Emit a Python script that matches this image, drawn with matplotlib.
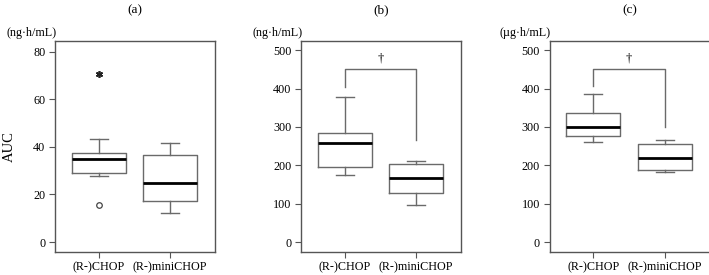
import matplotlib.pyplot as plt

plt.rcParams['font.family'] = ['Liberation Serif', 'DejaVu Serif']

groups = ["(R-)CHOP", "(R-)miniCHOP"]
panels = ["(a)", "(b)", "(c)"]
units = ["(ng\u00b7h/mL)", "(ng\u00b7h/mL)", "(\u00b5g\u00b7h/mL)"]

# box statistics per panel: [CHOP, miniCHOP]
whislo = [[27.8, 12.1], [175, 96], [260, 182]]
q1 = [[29.2, 17.4], [195, 128], [276, 189]]
med = [[35.1, 25.0], [257, 168], [300, 219]]
q3 = [[37.3, 36.8], [284, 204], [337, 255]]
whishi = [[43.5, 41.8], [378, 211], [385, 265]]

# outliers in panel (a), CHOP group
out_circle = [15.7]
out_star = [70.9]

# significance bracket for (b) and (c): top, left leg end, right leg end
brackets = [None, (452, 403, 266), (452, 407, 301)]

yticks = [[0, 20, 40, 60, 80], [0, 100, 200, 300, 400, 500], [0, 100, 200, 300, 400, 500]]
ylims = [(-4.2, 84.6), (-26, 524), (-26, 524)]

W, H = 709, 275
fig = plt.figure(figsize=(W / 100, H / 100), dpi=100)
lefts = [55, 301, 549.5]
edge = '#6a6a6a'

for i in range(3):
    ax = fig.add_axes([lefts[i] / W, 1 - 252 / H, 160 / W, 211 / H])
    stats = []
    for j in range(2):
        stats.append(dict(whislo=whislo[i][j], q1=q1[i][j], med=med[i][j],
                          q3=q3[i][j], whishi=whishi[i][j], fliers=[]))
    ax.bxp(stats, positions=[1, 2], widths=0.76, showfliers=False,
           boxprops=dict(color=edge, linewidth=1.0),
           whiskerprops=dict(color=edge, linewidth=1.0),
           capprops=dict(color=edge, linewidth=1.0),
           medianprops=dict(color='black', linewidth=2.0),
           capwidths=0.25)
    if i == 0:
        ax.plot([1] * len(out_circle), out_circle, 'o', mfc='white', mec='#444444',
                ms=4, mew=0.9)
        ax.plot([1] * len(out_star), out_star, marker=(6, 2, 0), color='#222222',
                ms=5, mew=1.2, ls='none')
    if brackets[i] is not None:
        top, l_end, r_end = brackets[i]
        ax.plot([1, 1, 2, 2], [l_end, top, top, r_end], color=edge, lw=1.0)
        ax.text(1.5, top + 10, "\u2020", ha='center', va='bottom', fontsize=9)

    ax.set_xlim(0.389, 2.626)
    ax.set_ylim(*ylims[i])
    ax.set_yticks(yticks[i])
    ax.set_xticks([1, 2])
    ax.set_xticklabels(groups, fontsize=8.7)
    ax.tick_params(axis='y', labelsize=8.7, length=4, color='#555555', pad=3)
    ax.tick_params(axis='x', length=4, color='#555555', pad=3)
    for s in ax.spines.values():
        s.set_color('#555555')
        s.set_linewidth(1.0)
    ax.text(0.01, 1 + 8 / 211, units[i], transform=ax.transAxes, ha='right',
            va='center', fontsize=8.7)
    ax.text(0.5, 1 + 31 / 211, panels[i], transform=ax.transAxes, ha='center',
            va='center', fontsize=9.5)

fig.text(9 / W, 1 - 147 / H, "AUC", rotation=90, ha='center', va='center', fontsize=10.5)

fig.savefig("out.png", dpi=100)
